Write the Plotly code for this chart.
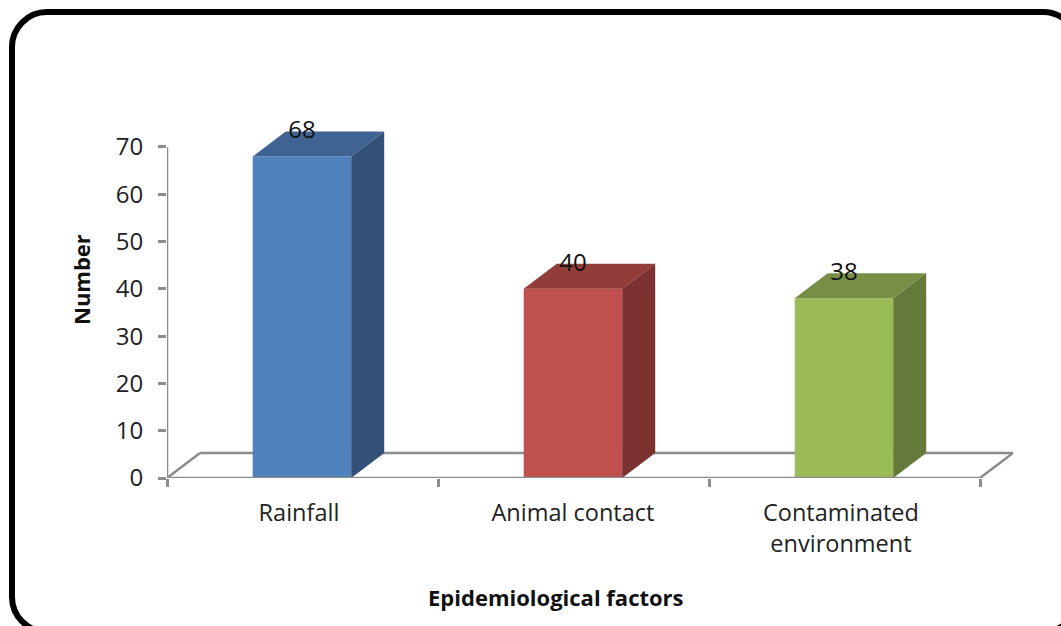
import plotly.graph_objects as go

# --- data ---
categories = ["Rainfall", "Animal contact", "Contaminated<br>environment"]
values = [68, 40, 38]
front_colors = ["#4F81BD", "#C0504D", "#9BBB59"]
top_colors = ["#3F6493", "#933D3A", "#778E45"]
side_colors = ["#325078", "#7B3230", "#657A3A"]
y_ticks = [0, 10, 20, 30, 40, 50, 60, 70]

# --- layout geometry (pixels in the 1061x626 page) ---
W, H = 1061, 626
L, R, T, B = 167, 1013, 120, 478
PX_PER_CAT = 271.0
PX_PER_UNIT = 4.729
DEPTH_X = 33 / PX_PER_CAT
DEPTH_Y = 25 / PX_PER_UNIT
BAR_W = 98.5 / PX_PER_CAT
GREY = "#8C8C8C"
FONT = "Open Sans"
TEXT = "#222222"
LABEL_SHIFT_PX = [-3, 0, -3]

def px(x):
    return (x - L) / (R - L)

def py(y):
    return (B - y) / (B - T)

centers = [i + 0.498 for i in range(len(values))]
label_pos = [c + s / PX_PER_CAT for c, s in zip(centers, LABEL_SHIFT_PX)]

fig = go.Figure()
fig.add_trace(go.Bar(x=centers, y=values, width=[BAR_W] * len(values),
                     marker=dict(color=front_colors, line=dict(width=0)),
                     hoverinfo="skip", showlegend=False))

for c, v, tc, sc in zip(centers, values, top_colors, side_colors):
    xl, xr = c - BAR_W / 2, c + BAR_W / 2
    fig.add_trace(go.Scatter(
        x=[xl, xr, xr + DEPTH_X, xl + DEPTH_X, xl],
        y=[v, v, v + DEPTH_Y, v + DEPTH_Y, v],
        mode="lines", fill="toself", fillcolor=tc, line=dict(width=0),
        hoverinfo="skip", showlegend=False))
    fig.add_trace(go.Scatter(
        x=[xr, xr + DEPTH_X, xr + DEPTH_X, xr, xr],
        y=[0, DEPTH_Y, v + DEPTH_Y, v, 0],
        mode="lines", fill="toself", fillcolor=sc, line=dict(width=0),
        hoverinfo="skip", showlegend=False))

fig.add_trace(go.Scatter(
    x=centers, y=[v + 24 / PX_PER_UNIT for v in values],
    mode="text", text=[str(v) for v in values], textposition="middle center",
    textfont=dict(family=FONT, size=24, color="#111111"),
    hoverinfo="skip", showlegend=False, cliponaxis=False))

n = len(values)
line = dict(color=GREY, width=2.5)
shapes = [
    # floor parallelogram, behind the bars
    dict(type="line", xref="x", yref="y", x0=0, y0=0, x1=DEPTH_X, y1=DEPTH_Y, line=line, layer="below"),
    dict(type="line", xref="x", yref="y", x0=DEPTH_X, y0=DEPTH_Y, x1=n + DEPTH_X, y1=DEPTH_Y, line=line, layer="below"),
    dict(type="line", xref="x", yref="y", x0=n, y0=0, x1=n + DEPTH_X, y1=DEPTH_Y, line=line, layer="below"),
    # axis lines
    dict(type="line", xref="x", yref="y", x0=0, y0=0, x1=n, y1=0, line=line, layer="above"),
    dict(type="line", xref="x", yref="y", x0=0, y0=0, x1=0, y1=max(y_ticks), line=line, layer="above"),
]

# rounded black frame, running off the right and bottom edges of the page
fl, ft, fr, fb, rad = 12, 12, 1078, 632, 35
k = rad * 0.45
frame = (
    f"M {px(fl)} {py(ft + rad)} "
    f"C {px(fl)} {py(ft + k)} {px(fl + k)} {py(ft)} {px(fl + rad)} {py(ft)} "
    f"L {px(fr - rad)} {py(ft)} "
    f"C {px(fr - k)} {py(ft)} {px(fr)} {py(ft + k)} {px(fr)} {py(ft + rad)} "
    f"L {px(fr)} {py(fb - rad)} "
    f"C {px(fr)} {py(fb - k)} {px(fr - k)} {py(fb)} {px(fr - rad)} {py(fb)} "
    f"L {px(fl + rad)} {py(fb)} "
    f"C {px(fl + k)} {py(fb)} {px(fl)} {py(fb - k)} {px(fl)} {py(fb - rad)} Z"
)
shapes.append(dict(type="path", xref="paper", yref="paper", path=frame,
                   line=dict(color="black", width=6), fillcolor="rgba(0,0,0,0)", layer="above"))

fig.update_layout(
    width=W, height=H, autosize=False,
    margin=dict(l=L, r=W - R, t=T, b=H - B, pad=0),
    paper_bgcolor="white", plot_bgcolor="rgba(0,0,0,0)",
    showlegend=False, barmode="overlay", shapes=shapes,
    xaxis=dict(
        range=[0, (R - L) / PX_PER_CAT], showgrid=False, zeroline=False, showline=False,
        tickmode="array", tickvals=label_pos, ticktext=categories,
        ticks="outside", ticklen=14, tickcolor="rgba(0,0,0,0)",
        tickfont=dict(family=FONT, size=23.5, color=TEXT),
        minor=dict(tickmode="array", tickvals=list(range(n + 1)), ticks="outside",
                   ticklen=8, tickwidth=2.5, tickcolor=GREY, showgrid=False),
    ),
    yaxis=dict(
        range=[0, (B - T) / PX_PER_UNIT], showgrid=False, zeroline=False, showline=False,
        tickmode="array", tickvals=y_ticks, ticks="outside", ticklen=8, tickwidth=2.5,
        tickcolor=GREY, tickfont=dict(family=FONT, size=24, color=TEXT),
        ticklabelstandoff=10,
    ),
    annotations=[
        dict(text="<b>Number</b>", xref="paper", yref="paper", x=px(81), y=py(280),
             showarrow=False, textangle=-90, xanchor="center", yanchor="middle",
             font=dict(family=FONT, size=22, color="#111111")),
        dict(text="<b>Epidemiological factors</b>", xref="paper", yref="paper", x=px(556), y=py(597),
             showarrow=False, xanchor="center", yanchor="middle",
             font=dict(family=FONT, size=22, color="#111111")),
    ],
)

fig.write_html("out.html", config=dict(displayModeBar=False),
               post_script="document.body.style.margin='0';document.documentElement.style.overflow='hidden';")
